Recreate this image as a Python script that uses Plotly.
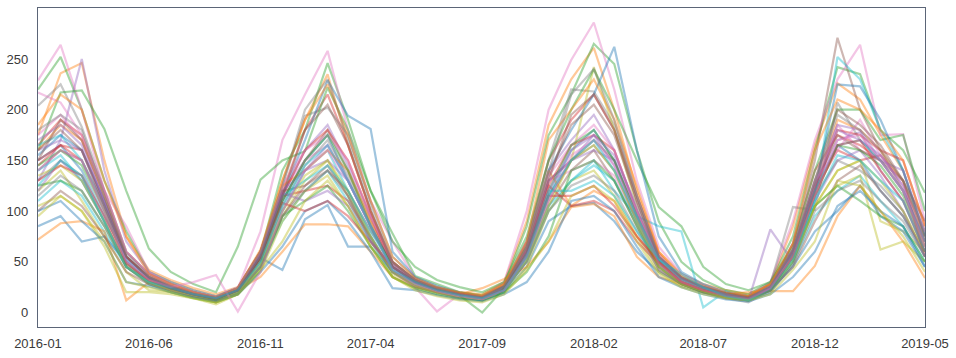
import plotly.graph_objects as go

months = ["2016-01", "2016-02", "2016-03", "2016-04", "2016-05", "2016-06", "2016-07", "2016-08",
          "2016-09", "2016-10", "2016-11", "2016-12", "2017-01", "2017-02", "2017-03", "2017-04",
          "2017-05", "2017-06", "2017-07", "2017-08", "2017-09", "2017-10", "2017-11", "2017-12",
          "2018-01", "2018-02", "2018-03", "2018-04", "2018-05", "2018-06", "2018-07", "2018-08",
          "2018-09", "2018-10", "2018-11", "2018-12", "2019-01", "2019-02", "2019-03", "2019-04",
          "2019-05"]

tick_labels = ["2016-01", "2016-06", "2016-11", "2017-04", "2017-09", "2018-02", "2018-07", "2018-12", "2019-05"]
y_ticks = [0, 50, 100, 150, 200, 250]

s00 = [150,165,140,95,55,35,25,20,15,22,55,110, 150,175,130,85,45,30,22,18,16,25,60,115, 160,180,150,95,50,32,22,17,15,27,62,120, 165,150,120,95,55]
s01 = [175,236,246,150,75,42,32,24,18,25,60,130, 190,235,165,100,50,32,24,20,18,30,90,185, 230,261,200,120,60,38,28,22,18,28,85,165, 226,210,175,140,75]
s02 = [220,252,200,130,80,40,30,22,16,24,58,140, 180,246,190,120,78,36,28,20,17,28,85,175, 215,265,245,160,90,50,32,22,18,30,75,160, 242,235,180,160,118]
s03 = [165,190,175,120,60,38,28,20,15,24,60,120, 180,215,165,100,50,32,22,18,15,26,70,150, 190,215,180,115,58,34,25,18,14,25,68,140, 175,165,150,120,65]
s04 = [130,170,250,140,70,40,30,22,16,25,60,115, 160,185,145,95,50,32,24,18,16,28,70,140, 170,195,160,100,52,33,24,18,14,26,60,125, 170,178,140,110,60]
s05 = [140,160,150,100,55,35,26,20,14,22,55,110, 150,180,140,90,45,30,22,18,15,24,62,130, 150,170,150,95,50,32,24,19,16,28,68,150, 271,200,160,120,70]
s06 = [229,264,200,120,85,40,28,20,15,24,80,170, 215,258,180,110,70,34,25,18,16,30,100,200, 249,286,220,130,65,38,27,20,16,30,90,170, 230,264,175,176,90]
s07 = [204,225,183,120,60,38,28,20,15,24,60,125, 194,202,175,110,55,34,25,19,16,26,68,150, 220,218,185,115,55,35,26,19,16,28,104,101, 207,170,150,120,70]
s08 = [120,140,110,75,40,22,20,15,10,18,45,95, 130,150,115,70,38,26,20,16,14,22,55,110, 150,242,180,105,50,30,22,16,13,24,55,105, 140,150,90,80,60]
s09 = [110,130,115,80,45,30,24,18,14,20,45,90, 120,140,110,70,40,28,22,17,15,22,50,100, 130,150,120,95,85,80,5,21,12,20,48,95, 120,135,110,85,50]
s10 = [85,95,70,75,50,30,22,16,12,20,54,42, 92,106,65,65,40,28,20,15,12,20,45,90, 105,108,90,60,40,28,20,16,14,22,45,80, 100,125,95,80,45]
s11 = [72,88,90,80,12,30,25,18,10,22,35,60, 87,87,85,60,35,25,20,18,24,33,45,70, 104,107,95,55,35,28,22,18,20,21,21,46, 95,125,100,70,34]
s12 = [160,217,219,181,120,63,40,28,20,65,131,150, 159,222,180,120,70,45,32,25,20,30,75,150, 200,240,200,150,104,85,45,28,22,30,65,140, 200,200,170,175,100]
s13 = [150,165,160,110,55,35,25,18,14,22,55,115, 120,125,110,75,40,30,22,17,14,24,60,125, 165,175,160,100,50,30,22,17,14,24,60,120, 160,150,155,130,55]
s14 = [120,150,130,90,45,30,22,16,12,18,48,100, 140,165,130,85,42,28,20,16,13,20,55,110, 150,175,145,90,45,28,20,14,12,82,50,110, 150,160,135,100,55]
s15 = [100,120,105,75,40,28,22,16,12,20,45,95, 125,145,115,75,40,26,20,15,13,22,50,105, 140,160,130,85,42,28,20,15,12,22,45,90, 130,145,120,95,60]
s16 = [175,195,170,110,55,35,25,18,14,22,58,120, 150,165,130,85,40,25,1,18,16,24,60,130, 140,150,135,90,48,30,22,16,13,22,58,120, 185,160,150,120,60]
s17 = [130,150,135,90,45,30,22,16,12,20,50,105, 145,170,135,85,42,28,22,17,14,22,55,115, 150,165,140,90,45,28,20,14,10,22,55,115, 150,140,125,100,55]
s18 = [105,115,100,65,20,20,18,14,8,18,40,90, 120,135,105,65,35,24,18,14,12,20,45,100, 130,140,115,75,40,26,20,15,13,22,50,105, 125,135,62,70,50]
s19 = [140,155,130,90,45,30,24,18,14,20,48,100, 140,160,120,75,40,28,22,16,12,20,52,105, 130,145,130,90,50,32,24,18,14,24,55,110, 252,230,180,140,75]
s20 = [155,175,160,110,55,34,25,18,14,22,55,115, 170,229,194,181,60,35,26,20,16,26,65,140, 180,215,262,160,75,40,28,20,16,26,60,120, 225,223,190,140,75]
s21 = [160,185,170,115,55,35,26,19,14,24,60,125, 140,160,140,90,50,32,24,19,16,28,65,140, 105,120,110,75,50,33,24,19,16,28,60,125, 190,180,160,130,70]
s22 = [125,130,120,85,45,28,20,14,10,18,42,95, 110,125,100,65,35,24,18,14,12,20,40,75, 140,150,130,85,45,28,20,15,12,22,50,105, 125,110,95,85,50]
s23 = [145,165,150,105,50,32,24,18,13,22,55,115, 160,180,150,95,45,30,22,18,14,24,60,125, 105,110,100,70,48,30,22,16,13,22,58,120, 180,175,160,150,85]
s24 = [170,185,165,110,55,34,25,18,14,22,58,120, 140,150,130,85,48,30,22,17,14,24,62,130, 150,160,150,100,55,34,25,18,14,24,62,130, 185,180,150,140,80]
s25 = [150,190,170,115,55,35,26,19,14,22,58,120, 125,140,120,80,50,32,24,19,15,26,65,135, 185,205,175,110,52,33,24,18,14,24,60,125, 175,160,150,130,90]
s26 = [217,207,175,120,60,38,27,20,15,24,60,125, 160,175,150,95,48,32,23,18,14,24,62,135, 165,185,160,100,50,32,24,18,14,26,62,130, 160,190,155,125,80]
s27 = [115,135,120,85,45,28,22,16,12,20,45,95, 120,140,115,72,40,26,20,15,13,22,50,100, 125,135,120,80,42,28,20,15,12,20,48,100, 120,130,110,90,55]
s28 = [135,145,130,90,45,30,22,16,12,20,48,100, 135,150,120,75,40,27,20,16,13,22,52,105, 150,165,140,90,45,28,21,15,12,22,52,105, 140,150,130,100,60]
s29 = [165,175,150,105,52,34,25,18,14,22,55,115, 130,145,120,80,45,30,22,17,14,24,58,120, 120,130,115,80,52,33,24,18,14,24,58,120, 165,170,150,120,70]
s30 = [100,110,90,70,30,26,20,15,11,18,40,65, 100,110,90,60,24,22,17,13,11,18,30,60, 110,115,100,65,35,25,18,13,11,18,35,60, 105,120,100,85,45]
s31 = [185,215,200,130,75,38,28,20,15,24,62,130, 190,225,175,110,55,34,25,20,17,28,70,170, 200,230,190,125,60,36,26,20,16,28,68,160, 210,200,180,150,85]
s32 = [145,160,145,100,48,32,24,18,13,22,52,110, 150,175,140,85,45,30,22,17,0,24,58,120, 165,180,150,95,48,30,22,16,13,22,55,115, 165,160,145,115,65]
s33 = [130,145,135,95,48,32,24,18,14,22,52,108, 100,110,95,70,45,30,22,17,14,22,56,115, 115,125,105,75,50,30,22,17,14,22,55,115, 165,170,140,110,60]
s34 = [160,170,160,105,52,34,25,18,14,22,56,118, 110,120,105,70,45,30,22,17,14,22,58,120, 160,175,155,105,55,34,25,18,14,24,60,125, 180,170,155,125,70]
s35 = [160,180,160,105,55,34,25,18,14,22,55,115, 180,205,165,100,48,32,23,18,14,24,62,130, 195,215,180,110,55,35,25,19,15,25,62,130, 200,185,165,130,75]
s36 = [140,160,150,100,50,32,25,30,37,1,40,100, 140,160,130,85,42,28,21,16,13,22,55,110, 155,170,145,95,48,30,22,16,13,24,55,115, 170,175,150,120,65]
s37 = [180,195,180,115,58,36,26,19,15,24,60,125, 200,230,170,105,50,32,24,18,15,26,65,140, 215,240,190,115,55,34,25,18,14,26,62,130, 195,180,160,130,80]
s38 = [95,115,100,70,30,25,20,14,10,18,42,70, 110,130,105,65,35,22,16,12,10,18,42,70, 115,125,110,70,38,25,18,14,12,18,42,70, 130,125,100,75,40]
s39 = [125,150,135,90,45,30,24,18,14,22,50,105, 145,165,130,85,42,30,22,17,14,22,55,115, 150,170,140,95,52,38,25,16,12,22,52,110, 155,150,130,110,60]

series = [s00, s01, s02, s03, s04, s05, s06, s07, s08, s09, s10, s11, s12, s13, s14, s15, s16, s17, s18, s19,
          s20, s21, s22, s23, s24, s25, s26, s27, s28, s29, s30, s31, s32, s33, s34, s35, s36, s37, s38, s39]

palette = ["#1f77b4", "#ff7f0e", "#2ca02c", "#d62728", "#9467bd",
           "#8c564b", "#e377c2", "#7f7f7f", "#bcbd22", "#17becf"]

x_dates = [m + "-01" for m in months]

fig = go.Figure()
for i, s in enumerate(series):
    fig.add_trace(go.Scatter(
        x=x_dates, y=s, mode="lines",
        line=dict(color=palette[i % 10], width=2.2),
        opacity=0.42, showlegend=False, hoverinfo="skip"))

fig.update_layout(
    width=956, height=358,
    margin=dict(l=34, r=30, t=7, b=25),
    paper_bgcolor="white", plot_bgcolor="white",
    font=dict(family="Liberation Sans, Arial, Helvetica, sans-serif", size=13, color="#3a3a3a"),
    showlegend=False,
)
fig.update_xaxes(
    type="date",
    range=[x_dates[0], x_dates[-1]],
    tickvals=[t + "-01" for t in tick_labels], ticktext=tick_labels,
    showgrid=False, zeroline=False,
    showline=True, mirror=True, linecolor="#5b6577", linewidth=1.3,
    ticks="", ticklabelstandoff=4,
)
fig.update_yaxes(
    range=[-14.3, 300.3],
    tickvals=y_ticks,
    showgrid=False, zeroline=False,
    showline=True, mirror=True, linecolor="#5b6577", linewidth=1.3,
    ticks="", ticklabelstandoff=6,
)

fig.write_html("out.html", config={"displayModeBar": False},
               post_script="document.body.style.margin='0';")
